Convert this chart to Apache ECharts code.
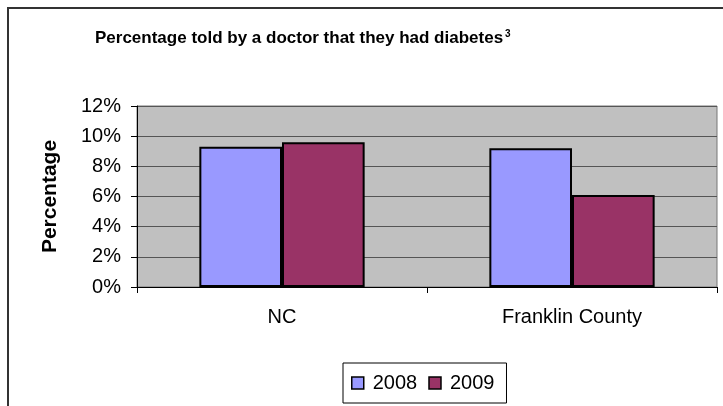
<!DOCTYPE html>
<html>
<head>
<meta charset="utf-8">
<script src="https://cdn.jsdelivr.net/npm/echarts@6/dist/echarts.min.js"></script>
<style>
  html, body { margin: 0; padding: 0; background: #fff; }
  #chart { width: 723px; height: 406px; }
</style>
</head>
<body>
<div id="chart"></div>
<script>
// data
var categories = ['NC', 'Franklin County'];
var years = ['2008', '2009'];
var values2008 = [9.3, 9.2];
var values2009 = [9.6, 6.1];
var yTicks = { min: 0, max: 12, step: 2 };

var myChart = echarts.init(document.getElementById('chart'));
myChart.setOption({
  animation: false,
  textStyle: { fontFamily: 'Liberation Sans, Arial, sans-serif' },
  graphic: [{
    type: 'rect',
    shape: { x: 8, y: 8, width: 800, height: 500 },
    style: { fill: 'none', stroke: '#333', lineWidth: 2 },
    silent: true,
  }],
  title: {
    text: 'Percentage told by a doctor that they had diabetes{sup|3}',
    left: 90,
    top: 24,
    textStyle: {
      color: '#000',
      fontSize: 17,
      fontWeight: 'bold',
      rich: {
        sup: { fontSize: 10, fontWeight: 'bold', padding: [0, 0, 9, 2] },
      },
    },
  },
  legend: {
    data: years,
    left: 343,
    top: 363,
    width: 165,
    padding: [10, 12, 10, 8],
    borderColor: '#000',
    borderWidth: 1,
    itemWidth: 12,
    itemHeight: 12,
    itemGap: 11,
    icon: 'rect',
    itemStyle: { borderColor: '#000', borderWidth: 1.5 },
    textStyle: { fontSize: 20, color: '#000', padding: [0, 0, 0, 4] },
  },
  grid: {
    left: 137, right: 6, top: 106, bottom: 119,
    show: true, backgroundColor: '#C0C0C0', borderColor: '#777', borderWidth: 1,
  },
  xAxis: {
    type: 'category',
    data: categories,
    axisLine: { lineStyle: { color: '#000', width: 1 } },
    axisTick: { show: true, length: 6, lineStyle: { color: '#000' } },
    axisLabel: { fontSize: 20, color: '#000', margin: 20 },
    splitLine: { show: false },
  },
  yAxis: {
    type: 'value',
    min: yTicks.min,
    max: yTicks.max,
    interval: yTicks.step,
    name: 'Percentage',
    nameLocation: 'middle',
    nameGap: 76,
    nameTextStyle: { fontSize: 21, fontWeight: 'bold', color: '#000' },
    axisLine: { show: true, lineStyle: { color: '#000' } },
    axisTick: { show: true, length: 6, lineStyle: { color: '#000' } },
    axisLabel: { fontSize: 20, color: '#000', margin: 16, formatter: '{value}%' },
    splitLine: { show: true, lineStyle: { color: '#555', width: 1 } },
  },
  series: [
    {
      name: years[0],
      type: 'bar',
      data: values2008,
      barGap: '0%',
      barCategoryGap: '43%',
      itemStyle: { color: '#9999FF', borderColor: '#000', borderWidth: 2 },
    },
    {
      name: years[1],
      type: 'bar',
      data: values2009,
      itemStyle: { color: '#993366', borderColor: '#000', borderWidth: 2 },
    },
  ],
});
</script>
</body>
</html>
